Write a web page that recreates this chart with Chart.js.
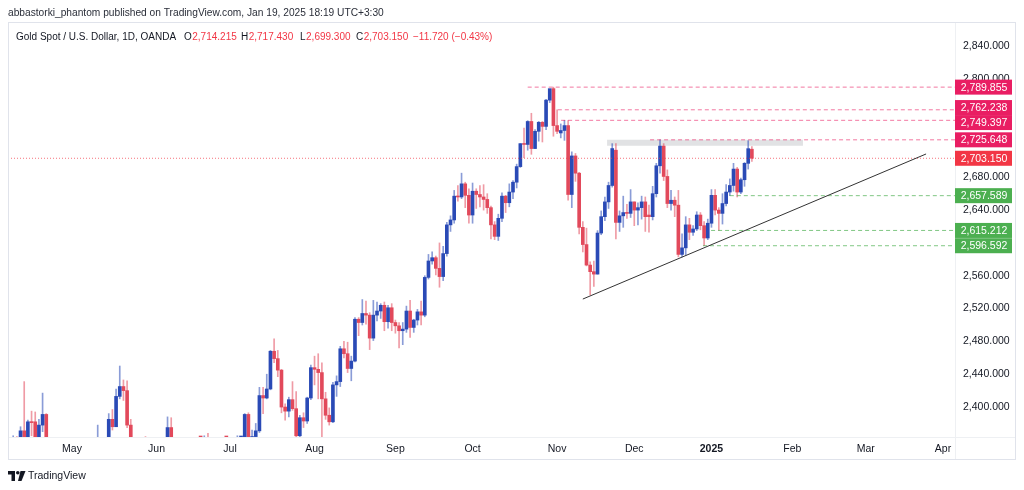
<!DOCTYPE html>
<html>
<head>
<meta charset="utf-8">
<title>Gold Spot / U.S. Dollar, 1D</title>
<script src="https://cdn.jsdelivr.net/npm/chart.js@4.4.1/dist/chart.umd.min.js"></script>
<style>
  html, body { margin: 0; padding: 0; background: #fff; }
  #wrap { width: 1024px; height: 490px; }
</style>
</head>
<body>
<div id="wrap"><canvas id="goldChart" width="1024" height="490"></canvas></div>
<script>
const FONT = '"Liberation Sans", Arial, sans-serif';
const UP = "#2a4ab6";
const DOWN = "#e2495b";
const UP_WICK = "rgba(42,74,182,0.55)";
const DOWN_WICK = "rgba(226,73,91,0.55)";

// x = trading day index, May 1 2024 = 0 (first bar is Apr 8)
const firstIndex = -17;

const opens = [
  2329,2339,2352,2333,2371,2344,2382,2382,2361,2378,2391,2327,2322,2316,2332,2337,2335, // Apr
  2286,2320,2303,2301,2324,2314,2309,2346,2360,2336,2358,2385,2376,2413,2425,2420,2378,2329,2334,2351,2361,2338,2343, // May
  2327,2350,2327,2355,2375,2294,2311,2316,2324,2303,2333,2319,2329,2328,2361,2322,2334,2320,2298,2327, // Jun
  2326,2332,2330,2356,2356,2391,2359,2364,2371,2414,2411,2422,2468,2459,2445,2400,2395,2409,2398,2365,2387,2383,2411, // Jul
  2448,2446,2442,2410,2390,2382,2427,2431,2471,2465,2447,2456,2507,2503,2514,2512,2484,2512,2517,2524,2504,2521, // Aug
  2503,2499,2493,2495,2517,2497,2506,2516,2512,2558,2578,2582,2569,2559,2587,2622,2628,2657,2656,2672,2658, // Sep
  2634,2663,2659,2656,2653,2643,2622,2608,2630,2657,2649,2662,2674,2693,2721,2720,2748,2715,2736,2747,2742,2774,2788, // Oct
  2743,2734,2737,2743,2659,2706,2685,2619,2598,2573,2565,2562,2612,2632,2650,2670,2713,2625,2633,2637,2636, // Nov
  2650,2640,2643,2650,2634,2632,2660,2694,2718,2681,2648,2652,2646,2586,2594,2622,2613,2617,2634,2621,2606, // Dec
  2624,2658,2640,2636,2648,2662,2670,2690,2662,2677,2697,2714.215 // Jan
];
const highs = [
  2354,2365,2364,2376,2431,2384,2395,2394,2385,2417,2392,2333,2335,2339,2352,2345,2337,
  2327,2326,2319,2331,2326,2320,2351,2378,2361,2362,2392,2397,2422,2450,2433,2432,2385,2340,2358,2363,2364,2352,2360,
  2354,2352,2360,2388,2387,2313,2317,2342,2327,2336,2333,2336,2336,2365,2368,2336,2335,2324,2330,2339,
  2339,2334,2365,2364,2392,2393,2372,2380,2424,2424,2440,2469,2483,2469,2446,2404,2412,2431,2419,2390,2393,2412,2451,
  2462,2465,2454,2418,2399,2430,2438,2474,2480,2479,2462,2509,2509,2531,2529,2515,2530,2528,2526,2528,2524,2526,
  2506,2503,2503,2523,2530,2507,2519,2529,2560,2586,2589,2584,2600,2596,2625,2633,2664,2670,2685,2674,2666,
  2673,2666,2670,2671,2660,2645,2626,2635,2661,2658,2672,2676,2696,2721,2740,2749,2758,2738,2748,2748,2775,2787,2789.855,
  2762.238,2745,2749.397,2749,2711,2709,2686,2626,2618,2577,2578,2615,2639,2656,2674,2721,2721,2639,2657,2647,2665,
  2650,2649,2657,2656,2646,2669,2697,2725.648,2721,2689,2664,2656,2664,2611,2632,2630,2621,2638,2637,2626,2629,
  2665,2665,2643,2660,2671,2678,2697,2692,2679,2698,2724.6,2717.43
];
const lows = [
  2321,2337,2319,2326,2326,2324,2365,2359,2354,2370,2320,2291,2311,2306,2327,2323,2285,
  2282,2298,2277,2291,2308,2303,2306,2340,2334,2330,2354,2372,2376,2410,2408,2375,2325,2325,2332,2341,2334,2326,2314,
  2314,2315,2323,2353,2287,2286,2298,2300,2295,2300,2309,2314,2321,2327,2316,2319,2316,2293,2297,2318,
  2318,2315,2323,2351,2353,2353,2353,2358,2369,2392,2410,2421,2454,2437,2393,2384,2388,2396,2353,2364,2375,2380,2409,
  2427,2410,2364,2385,2378,2381,2413,2425,2460,2442,2432,2455,2487,2500,2501,2470,2481,2505,2508,2493,2496,2493,
  2490,2472,2476,2491,2485,2491,2500,2500,2510,2556,2574,2561,2546,2554,2584,2614,2624,2651,2654,2643,2624,
  2624,2642,2644,2640,2636,2605,2604,2603,2626,2637,2644,2654,2667,2692,2704,2713,2708,2715,2724,2723,2738,2771,2730,
  2733,2728,2725,2652,2643,2675,2611,2589,2572,2536.6,2547,2562,2610,2627,2642,2668,2605,2614,2619,2630,2631,
  2621,2622,2629,2614,2613,2628,2656,2685,2676,2643,2640,2632,2583,2583,2585,2604,2609,2615,2616,2596.592,2604,
  2619,2634,2615.212,2623,2645,2657.589,2663,2656,2660,2669,2690,2699.3
];
const closes = [
  2339,2352,2333,2371,2344,2382,2381,2361,2378,2391,2327,2322,2316,2332,2337,2335,2286,
  2320,2303,2301,2324,2314,2309,2346,2360,2336,2358,2385,2376,2413,2425,2420,2378,2329,2334,2351,2361,2338,2343,2327,
  2350,2327,2355,2375,2294,2311,2316,2324,2303,2333,2319,2329,2328,2361,2322,2334,2320,2298,2327,2326,
  2332,2330,2356,2356,2391,2359,2364,2371,2414,2411,2422,2468,2459,2445,2400,2395,2409,2398,2365,2387,2383,2411,2448,
  2446,2442,2410,2390,2382,2427,2431,2471,2465,2447,2456,2507,2503,2514,2512,2484,2512,2517,2524,2504,2521,2503,
  2499,2493,2495,2517,2497,2506,2516,2512,2558,2578,2582,2569,2559,2587,2622,2628,2657,2656,2672,2658,2634,
  2663,2659,2656,2653,2643,2622,2608,2630,2657,2649,2662,2674,2693,2721,2720,2748,2715,2736,2747,2742,2774,2788,2743,
  2736,2737,2743,2659,2706,2685,2619,2598,2573,2565,2562,2612,2632,2650,2670,2715,2625,2633,2637,2636,2650,
  2640,2643,2650,2632,2632,2660,2694,2718,2681,2648,2652,2646,2586,2594,2622,2613,2617,2634,2621,2606,2624,
  2658,2640,2636,2648,2662,2670,2690,2662,2677,2697,2714.87,2703.15
];

const monthStarts = [0, 23, 43, 66, 88, 109, 132, 153, 174, 196, 216, 237];
const monthLabels = ["May", "Jun", "Jul", "Aug", "Sep", "Oct", "Nov", "Dec", "2025", "Feb", "Mar", "Apr"];
const priceTicks = [2400, 2440, 2480, 2520, 2560, 2640, 2680, 2800, 2840];

const resistLevels = [2789.855, 2762.238, 2749.397, 2725.648];
const resistFrom = [124, 132.2, 133.1, 157.3];
const supportLevels = [2657.589, 2615.212, 2596.592];
const supportFrom = [179, 173.9, 171.7];
const trendIdx = [139, 232.4];
const trendPrice = [2531.6, 2708.4];
const zoneIdx = [145.6, 198.9];
const zonePrice = 2722;

const X_MIN = -17.41, X_MAX = 240.27;
const Y_MIN = 2363.5, Y_MAX = 2868;

const last = closes.length - 1;
const lastPrice = closes[last];

function fmtPrice(v) {
  const parts = Number(v).toFixed(3).split(".");
  return parts[0].replace(/\B(?=(\d{3})+(?!\d))/g, ",") + "." + parts[1];
}

const upBody = [], downBody = [], upWick = [], downWick = [];
opens.forEach((o, k) => {
  const x = firstIndex + k;
  const c = closes[k];
  const body = { x: x, y: [o, c] };
  const wick = { x: x, y: [lows[k], highs[k]] };
  if (c >= o) { upBody.push(body); upWick.push(wick); }
  else { downBody.push(body); downWick.push(wick); }
});

function hLine(from, value, color, dash, order) {
  return {
    type: "line",
    data: [{ x: from, y: value }, { x: X_MAX, y: value }],
    borderColor: color, borderWidth: 1, borderDash: dash,
    pointRadius: 0, fill: false, order: order
  };
}

const datasets = [
  {
    type: "line",
    data: [{ x: zoneIdx[0], y: zonePrice }, { x: zoneIdx[1], y: zonePrice }],
    borderColor: "rgba(195,197,201,0.5)", borderWidth: 6, borderCapStyle: "butt",
    pointRadius: 0, fill: false, order: 10
  },
  { type: "bar", data: upWick, backgroundColor: UP_WICK, barThickness: 1, grouped: false, order: 8 },
  { type: "bar", data: downWick, backgroundColor: DOWN_WICK, barThickness: 1, grouped: false, order: 8 },
  { type: "bar", data: upBody, backgroundColor: UP, barThickness: 3, minBarLength: 1, grouped: false, order: 7 },
  { type: "bar", data: downBody, backgroundColor: DOWN, barThickness: 3, minBarLength: 1, grouped: false, order: 7 },
  hLine(X_MIN, lastPrice, "rgba(242,54,69,0.7)", [1, 2], 6)
];
resistLevels.forEach((v, k) => datasets.push(hLine(resistFrom[k], v, "rgba(233,30,99,0.6)", [4, 3], 3)));
supportLevels.forEach((v, k) => datasets.push(hLine(supportFrom[k], v, "rgba(76,175,80,0.7)", [4, 3], 3)));
datasets.push({
  type: "line",
  data: [{ x: trendIdx[0], y: trendPrice[0] }, { x: trendIdx[1], y: trendPrice[1] }],
  borderColor: "#333", borderWidth: 1, pointRadius: 0, fill: false, order: 2
});

const tvOverlay = {
  id: "tvOverlay",
  beforeDraw(chart) {
    const ctx = chart.ctx;
    ctx.save();
    ctx.fillStyle = "#fff";
    ctx.fillRect(0, 0, chart.width, chart.height);
    ctx.restore();
  },
  afterDraw(chart) {
    const ctx = chart.ctx;
    const area = chart.chartArea;
    const yScale = chart.scales.y;
    ctx.save();

    // pane frame and axis separators
    ctx.strokeStyle = "#e0e3eb";
    ctx.lineWidth = 1;
    ctx.strokeRect(8.5, 22.5, 1007, 437);
    ctx.strokeStyle = "#eef0f3";
    ctx.beginPath();
    ctx.moveTo(area.right + 0.5, 23); ctx.lineTo(area.right + 0.5, 459);
    ctx.moveTo(9, area.bottom + 0.5); ctx.lineTo(1015, area.bottom + 0.5);
    ctx.stroke();

    // publisher line
    ctx.textBaseline = "middle";
    ctx.textAlign = "left";
    ctx.fillStyle = "#2a2e39";
    ctx.font = "10.2px " + FONT;
    ctx.fillText("abbastorki_phantom published on TradingView.com, Jan 19, 2025 18:19 UTC+3:30", 8, 13);

    // legend line with OHLC from the data
    const red = "#f23645";
    const change = closes[last] - closes[last - 1];
    const pct = change / closes[last - 1] * 100;
    ctx.font = "10px " + FONT;
    ctx.fillStyle = "#131722";
    ctx.fillText("Gold Spot / U.S. Dollar, 1D, OANDA", 16, 37);
    const parts = [["O", opens[last], 184], ["H", highs[last], 241], ["L", lows[last], 300], ["C", closes[last], 356]];
    parts.forEach(p => {
      ctx.fillStyle = "#131722";
      ctx.fillText(p[0], p[2], 37);
      const w = ctx.measureText(p[0]).width;
      ctx.fillStyle = red;
      ctx.fillText(fmtPrice(p[1]), p[2] + w + 0.5, 37);
    });
    ctx.fillStyle = red;
    ctx.fillText("\u2212" + Math.abs(change).toFixed(3) + " (\u2212" + Math.abs(pct).toFixed(2) + "%)", 413, 37);

    // price labels on the right scale
    const items = resistLevels.map(v => ({ v: v, color: "#e91e63" }))
      .concat([{ v: lastPrice, color: "#f23645" }])
      .concat(supportLevels.map(v => ({ v: v, color: "#4caf50" })))
      .map(it => ({ v: it.v, color: it.color, y: yScale.getPixelForValue(it.v) }))
      .sort((a, b) => a.y - b.y);
    const boxH = 15;
    for (let pass = 0; pass < 6; pass++) {
      for (let k = 1; k < items.length; k++) {
        const d = items[k].y - items[k - 1].y;
        if (d < boxH) {
          const push = (boxH - d) / 2;
          items[k].y += push;
          items[k - 1].y -= push;
        }
      }
    }
    ctx.font = "10.5px " + FONT;
    ctx.textAlign = "center";
    items.forEach(it => {
      ctx.fillStyle = it.color;
      ctx.fillRect(area.right, it.y - boxH / 2, 57, boxH);
      ctx.fillStyle = "#fff";
      ctx.fillText(fmtPrice(it.v), area.right + 29, it.y + 0.5);
    });
    ctx.textAlign = "left";

    // TradingView mark
    ctx.fillStyle = "#131722";
    ctx.fillRect(8, 471, 7, 3.5);
    ctx.fillRect(11.5, 471, 3.5, 10);
    ctx.beginPath();
    ctx.arc(17.8, 472.8, 1.8, 0, Math.PI * 2);
    ctx.fill();
    ctx.beginPath();
    ctx.moveTo(20.5, 471); ctx.lineTo(25.5, 471); ctx.lineTo(21.5, 481); ctx.lineTo(18, 481);
    ctx.closePath();
    ctx.fill();
    ctx.font = "10.5px " + FONT;
    ctx.fillText("TradingView", 28, 476.5);

    ctx.restore();
  }
};

new Chart(document.getElementById("goldChart").getContext("2d"), {
  type: "bar",
  data: { datasets: datasets },
  options: {
    responsive: false,
    animation: false,
    events: [],
    layout: { padding: { left: 8, top: 23, right: 8, bottom: 31 } },
    plugins: { legend: { display: false }, tooltip: { enabled: false } },
    scales: {
      x: {
        type: "linear", min: X_MIN, max: X_MAX, offset: false,
        grid: { display: false, drawTicks: false }, border: { display: false },
        afterBuildTicks: s => { s.ticks = monthStarts.map(v => ({ value: v })); },
        afterFit: s => { s.height = 22; },
        ticks: {
          padding: 6, color: "#131722", maxRotation: 0, autoSkip: false,
          font: c => ({ family: FONT, size: 10.5, weight: (c.tick && c.tick.value === 174) ? "bold" : "normal" }),
          callback: v => monthLabels[monthStarts.indexOf(v)]
        }
      },
      y: {
        position: "right", min: Y_MIN, max: Y_MAX,
        grid: { display: false, drawTicks: false }, border: { display: false },
        afterBuildTicks: s => { s.ticks = priceTicks.map(v => ({ value: v })); },
        afterFit: s => { s.width = 61; },
        ticks: { padding: 8, color: "#131722", font: { family: FONT, size: 10.5 }, callback: v => fmtPrice(v) }
      }
    }
  },
  plugins: [tvOverlay]
});
</script>
</body>
</html>
